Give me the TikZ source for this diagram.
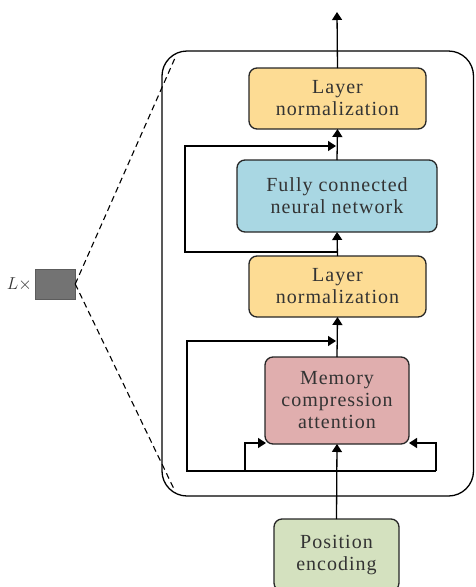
\documentclass[tikz,border=0pt]{standalone}
\usepackage{fontspec}
\usetikzlibrary{arrows.meta}
\newfontfamily\boxfont{Liberation Serif}[LetterSpace=5]
\definecolor{lnyellow}{HTML}{FDDC94}
\definecolor{fcblue}{HTML}{A9D7E3}
\definecolor{mcapink}{HTML}{E0AEAE}
\definecolor{pegreen}{HTML}{D4E1BF}
\definecolor{grayblk}{HTML}{737373}
\definecolor{txt}{HTML}{333333}
\begin{document}
\begin{tikzpicture}[x=1pt,y=-1pt,
  blk/.style={draw=black!85, line width=1.3pt, rounded corners=8pt, align=center,
    inner sep=0pt, outer sep=0pt, text=txt, font=\boxfont\fontsize{20}{22}\selectfont},
  arr/.style={-{Triangle[length=8pt,width=10pt]}, line width=1.3pt},
  ln/.style={line width=1.3pt},
  dsh/.style={line width=1.1pt, dash pattern=on 6pt off 4pt}]
\clip (0,0) rectangle (475,587);
\useasboundingbox (0,0) rectangle (475,587);
% big frame
\draw[line width=1.3pt, rounded corners=25pt] (162,51) rectangle (473.5,496);
% boxes
\node[blk, fill=lnyellow, minimum width=177pt, minimum height=61pt] (ln1) at (337.5,98.5) {Layer\\normalization};
\node[blk, fill=fcblue, minimum width=200pt, minimum height=72pt] (fcn) at (337,196) {Fully connected\\neural network};
\node[blk, fill=lnyellow, minimum width=177pt, minimum height=61pt] (ln2) at (337.5,286.5) {Layer\\normalization};
\node[blk, fill=mcapink, minimum width=144pt, minimum height=87pt] (mca) at (337,400.5) {Memory\\compression\\attention};
\node[blk, fill=pegreen, minimum width=125pt, minimum height=72pt] (pe) at (336.5,555) {Position\\encoding};
\node[fill=grayblk, draw=grayblk!80!black, line width=0.5pt, minimum width=40pt, minimum height=30pt, inner sep=0pt] (rep) at (55,284) {};
\node[anchor=east, inner sep=0pt, font=\fontsize{17}{20}\selectfont, text=txt] (lbl) at (rep.west) {$L\times$\,};
% coordinates
\coordinate (top) at (337,12);
\coordinate (j1) at (337,252);
\coordinate (r1a) at (185,252);
\coordinate (r1b) at (185,146);
\coordinate (r1c) at (336,146);
\coordinate (j2) at (337,471);
\coordinate (r2a) at (187,471);
\coordinate (r2b) at (187,341);
\coordinate (r2c) at (336,341);
\coordinate (la) at (245,471);
\coordinate (lb) at (245,443);
\coordinate (lc) at (266,443);
\coordinate (ra) at (436,471);
\coordinate (rb) at (436,443);
\coordinate (rc) at (409,443);
\coordinate (d1) at (175,58);
\coordinate (d2) at (174,489);
% connectors
\draw[arr] (ln1.north) -- (top);
\draw[arr] (fcn.north) -- (ln1.south);
\draw[arr] (ln2.north) -- (fcn.south);
\draw[arr] (mca.north) -- (ln2.south);
\draw[arr] (pe.north) -- (mca.south);
\draw[arr] (j1) -- (r1a) -- (r1b) -- (r1c);
\draw[arr] (j2) -- (r2a) -- (r2b) -- (r2c);
\draw[ln] (j2) -- (ra);
\draw[arr] (la) -- (lb) -- (lc);
\draw[arr] (ra) -- (rb) -- (rc);
\draw[dsh] (rep.east) -- (d1);
\draw[dsh] (rep.east) -- (d2);
\end{tikzpicture}
\end{document}
